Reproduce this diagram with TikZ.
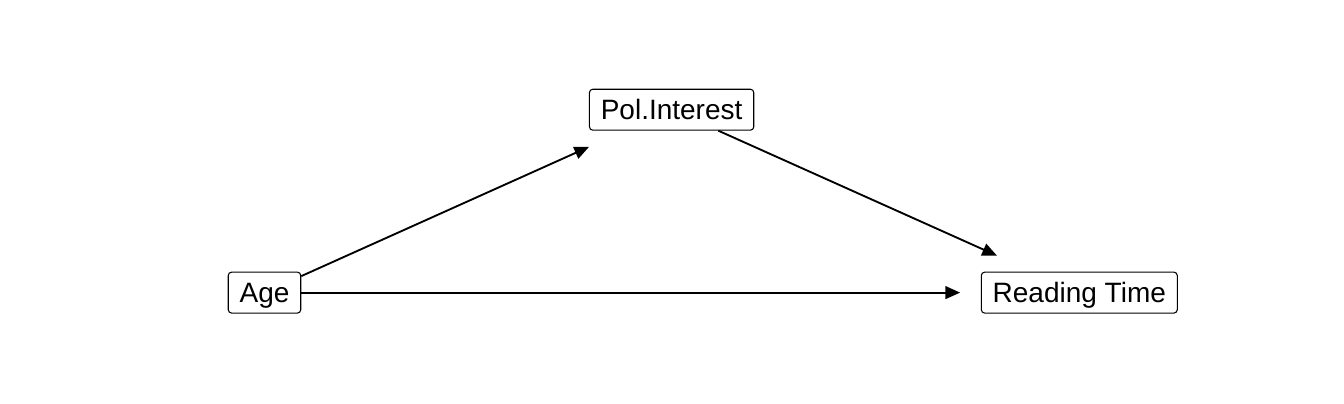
\documentclass[tikz,border=0pt]{standalone}
\usepackage{fontspec}
\setmainfont{Liberation Sans}
\usepackage{tikz}
\usetikzlibrary{arrows.meta,positioning,calc}

\begin{document}
\begin{tikzpicture}[x=0.75pt, y=-0.75pt, >={Triangle[length=11pt,width=9.5pt]}]
\tikzset{
var/.style      = {draw, shape=rectangle, rounded corners=2.5pt, line width=0.8pt, fill=white,
                   font=\fontsize{21}{25}\selectfont, inner xsep=8.5pt, inner ysep=0pt,
                   text height=23pt, text depth=7.7pt},
path/.style     = {->, line width=1.4pt},
}
    \useasboundingbox (0,0) rectangle (1344,403);

    % Variable nodes
    \node [var] (age)      at (264.5,292.6)  {Age};
    \node [var] (polint)   at (671.6,109.7)  {Pol.Interest};
    \node [var] (readtime) at (1079.3,292.6) {Reading Time};

    % Causal edges
    \draw [path, shorten >=29.5pt] (age)    -- (polint);
    \draw [path, shorten >=29.3pt] (polint) -- (readtime);
    \draw [path, shorten >=15.5pt] (age)    -- (readtime);

\end{tikzpicture}
\end{document}
